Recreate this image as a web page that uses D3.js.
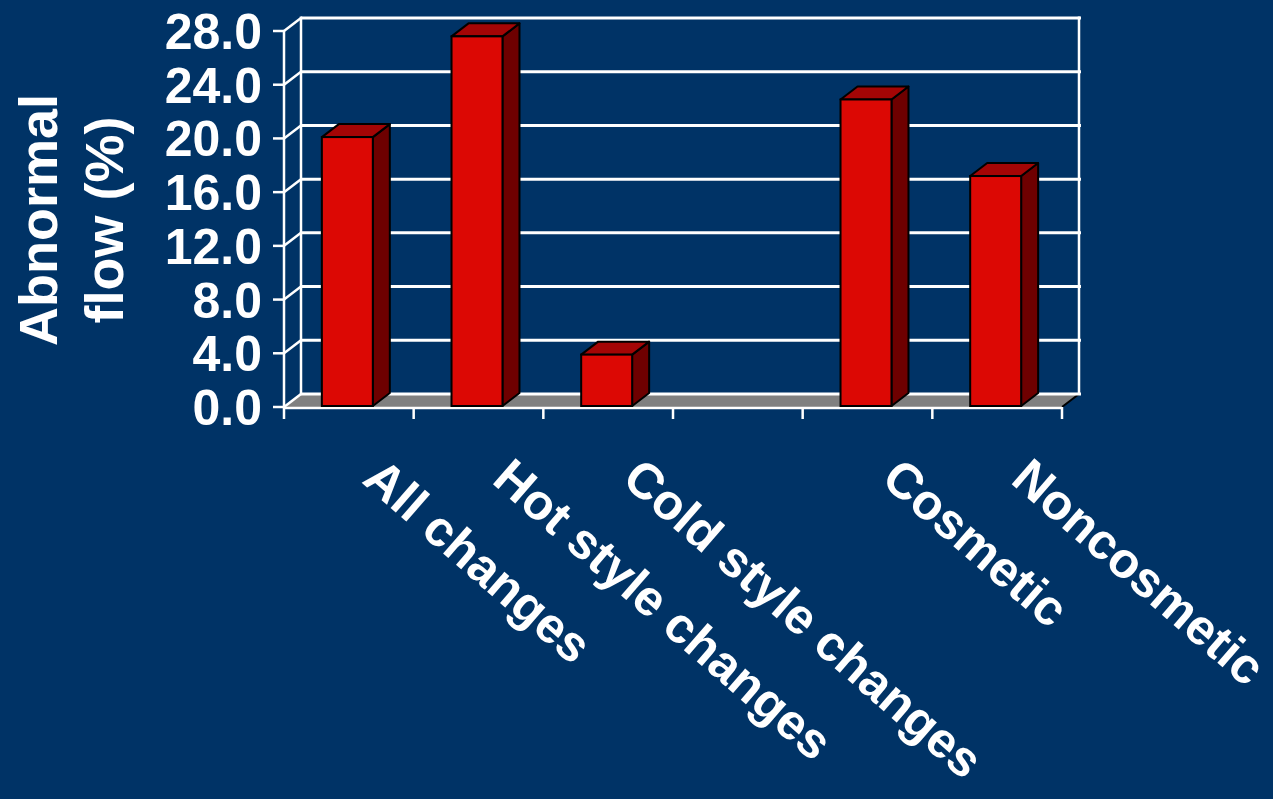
<!DOCTYPE html>
<html>
<head>
<meta charset="utf-8">
<script src="https://cdn.jsdelivr.net/npm/d3@7/dist/d3.min.js"></script>
<style>
  html, body { margin: 0; padding: 0; background: #003366; }
  svg { display: block; }
  text { font-family: "Liberation Sans", Arial, sans-serif; font-weight: bold; fill: #ffffff; }
</style>
</head>
<body>
<svg id="chart" width="1273" height="799"></svg>
<script>
// Categories (the blank slot is an empty position on the axis)
const categories = ["All changes", "Hot style changes", "Cold style changes", "", "Cosmetic", "Noncosmetic"];
// Abnormal flow (%) per category
const values = [20.1, 27.6, 3.9, null, 22.9, 17.2];
// Value axis ticks
const yTicks = [0, 4, 8, 12, 16, 20, 24, 28];
const yTitleLines = ["Abnormal", "flow (%)"];

const W = 1273, H = 799;
const svg = d3.select("#chart");
svg.append("rect").attr("width", W).attr("height", H).attr("fill", "#003366");

// Front plane of the plot and the oblique depth offset
const x0 = 284, x1 = 1062, yBase = 407, yTop = 31;
const depthX = 17, depthY = -13;

const y = d3.scaleLinear().domain([0, 28]).range([yBase, yTop]);
const x = d3.scaleBand().domain(d3.range(categories.length)).range([x0, x1])
  .paddingInner(0.607).paddingOuter(0.3035);

const white = "#ffffff";
const g = svg.append("g");

// Floor
g.append("polygon")
  .attr("points", [[x0, yBase], [x1, yBase], [x1 + depthX, yBase + depthY], [x0 + depthX, yBase + depthY]].join(" "))
  .attr("fill", "#808080");
g.append("line")
  .attr("x1", x1).attr("y1", yBase).attr("x2", x1 + depthX).attr("y2", yBase + depthY)
  .attr("stroke", "#000").attr("stroke-width", 2);

// Back wall gridlines
g.selectAll("line.grid").data(yTicks).join("line")
  .attr("class", "grid")
  .attr("x1", x0 + depthX).attr("x2", x1 + depthX + 2)
  .attr("y1", d => y(d) + depthY).attr("y2", d => y(d) + depthY)
  .attr("stroke", white).attr("stroke-width", 3);

// Back wall vertical edges
[x0 + depthX, x1 + depthX].forEach(xx => {
  g.append("line")
    .attr("x1", xx).attr("x2", xx)
    .attr("y1", y(28) + depthY - 1.5).attr("y2", y(0) + depthY)
    .attr("stroke", white).attr("stroke-width", 2.5);
});

// Side wall: diagonals from the front axis to the back wall
g.selectAll("line.side").data(yTicks).join("line")
  .attr("class", "side")
  .attr("x1", x0).attr("y1", d => y(d))
  .attr("x2", x0 + depthX).attr("y2", d => y(d) + depthY)
  .attr("stroke", white).attr("stroke-width", 2.5);

// Value axis line and tick marks
g.append("line")
  .attr("x1", x0).attr("x2", x0).attr("y1", y(28)).attr("y2", yBase)
  .attr("stroke", white).attr("stroke-width", 2.5);
g.selectAll("line.ytick").data(yTicks).join("line")
  .attr("class", "ytick")
  .attr("x1", x0 - 11).attr("x2", x0)
  .attr("y1", d => y(d)).attr("y2", d => y(d))
  .attr("stroke", white).attr("stroke-width", 2.5);

// Category axis line and tick marks
g.append("line")
  .attr("x1", x0).attr("x2", x1).attr("y1", yBase + 1).attr("y2", yBase + 1)
  .attr("stroke", white).attr("stroke-width", 2.5);
const step = x.step();
g.selectAll("line.xtick").data(d3.range(categories.length + 1)).join("line")
  .attr("class", "xtick")
  .attr("x1", i => x0 + i * step).attr("x2", i => x0 + i * step)
  .attr("y1", yBase).attr("y2", yBase + 12)
  .attr("stroke", white).attr("stroke-width", 2.5);

// 3D bars
const bars = g.selectAll("g.bar")
  .data(values.map((v, i) => ({ v, i })).filter(d => d.v != null))
  .join("g").attr("class", "bar");

const bw = x.bandwidth();
const left = d => x(d.i) - 1.5;
const topY = d => y(d.v);
const bottomY = yBase - 1;

bars.append("polygon") // right side face
  .attr("points", d => [
    [left(d) + bw, topY(d)], [left(d) + bw + depthX, topY(d) + depthY],
    [left(d) + bw + depthX, bottomY + depthY], [left(d) + bw, bottomY]
  ].join(" "))
  .attr("fill", "#6e0000").attr("stroke", "#000").attr("stroke-width", 2).attr("stroke-linejoin", "round");
bars.append("polygon") // top face
  .attr("points", d => [
    [left(d), topY(d)], [left(d) + depthX, topY(d) + depthY],
    [left(d) + bw + depthX, topY(d) + depthY], [left(d) + bw, topY(d)]
  ].join(" "))
  .attr("fill", "#a40505").attr("stroke", "#000").attr("stroke-width", 2).attr("stroke-linejoin", "round");
bars.append("rect") // front face
  .attr("x", left).attr("y", topY)
  .attr("width", bw).attr("height", d => bottomY - topY(d))
  .attr("fill", "#dc0804").attr("stroke", "#000").attr("stroke-width", 2);

// Value tick labels
g.selectAll("text.ylabel").data(yTicks).join("text")
  .attr("class", "ylabel")
  .attr("x", 262).attr("y", d => y(d))
  .attr("dy", "0.36em")
  .attr("text-anchor", "end")
  .style("font-size", "50px")
  .text(d3.format(".1f"));

// Axis title (two lines, rotated)
const title = g.append("text")
  .attr("transform", "translate(57,220) rotate(-90)")
  .attr("text-anchor", "middle")
  .style("font-size", "54px");
title.selectAll("tspan").data(yTitleLines).join("tspan")
  .attr("x", 0).attr("y", (d, i) => i * 66)
  .text(d => d);

// Category labels, slanted
g.selectAll("text.xlabel").data(categories.map((c, i) => ({ c, i })).filter(d => d.c)).join("text")
  .attr("class", "xlabel")
  .attr("transform", d => `translate(${x(d.i) + bw / 2 + 12},${482}) rotate(41)`)
  .attr("text-anchor", "start")
  .style("font-size", "50px")
  .text(d => d.c);
</script>
</body>
</html>
